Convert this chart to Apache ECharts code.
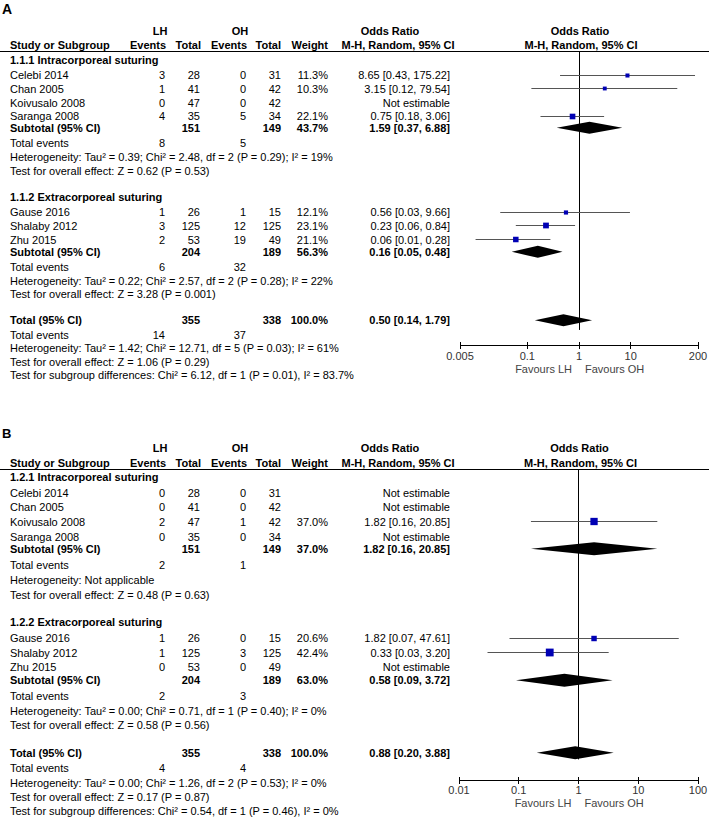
<!DOCTYPE html>
<html><head><meta charset="utf-8">
<script src="https://cdn.jsdelivr.net/npm/echarts@6/dist/echarts.min.js"></script>
<style>html,body{margin:0;padding:0;background:#fff}#c{width:709px;height:819px}</style>
</head><body><div id="c"></div>
<script>
// ---------------- data ----------------
const studies = ['Celebi 2014','Chan 2005','Koivusalo 2008','Saranga 2008','Gause 2016','Shalaby 2012','Zhu 2015'];
const studyGroup = [0,0,0,0,1,1,1];
const lhTotal = [28,41,47,35,26,125,53];
const ohTotal = [31,42,42,34,15,125,49];
const subLhTotal = [151,204];
const subOhTotal = [149,189];
const totalLh = 355;
const totalOh = 338;

// Panel A
const lhEventsA = [3,1,0,4,1,3,2];
const ohEventsA = [0,0,0,5,1,12,19];
const weightA = [11.3,10.3,null,22.1,12.1,23.1,21.1];
const orA = [8.65,3.15,null,0.75,0.56,0.23,0.06];
const ciLowA = [0.43,0.12,null,0.18,0.03,0.06,0.01];
const ciHighA = [175.22,79.54,null,3.06,9.66,0.84,0.28];
const subgroupsA = ['1.1.1 Intracorporeal suturing','1.1.2 Extracorporeal suturing'];
const subWeightA = [43.7,56.3];
const subOrA = [1.59,0.16];
const subLowA = [0.37,0.05];
const subHighA = [6.88,0.48];
const subLhEventsA = [8,6];
const subOhEventsA = [5,32];
const subHetA = ['Heterogeneity: Tau\u00b2 = 0.39; Chi\u00b2 = 2.48, df = 2 (P = 0.29); I\u00b2 = 19%',
                 'Heterogeneity: Tau\u00b2 = 0.22; Chi\u00b2 = 2.57, df = 2 (P = 0.28); I\u00b2 = 22%'];
const subTestA = ['Test for overall effect: Z = 0.62 (P = 0.53)','Test for overall effect: Z = 3.28 (P = 0.001)'];
const totalOrA = [0.50,0.14,1.79];
const totalEventsA = [14,37];
const totalHetA = 'Heterogeneity: Tau\u00b2 = 1.42; Chi\u00b2 = 12.71, df = 5 (P = 0.03); I\u00b2 = 61%';
const totalTestA = 'Test for overall effect: Z = 1.06 (P = 0.29)';
const subgroupDiffA = 'Test for subgroup differences: Chi\u00b2 = 6.12, df = 1 (P = 0.01), I\u00b2 = 83.7%';
const ticksA = [0.005,0.1,1,10,200];

// Panel B
const lhEventsB = [0,0,2,0,1,1,0];
const ohEventsB = [0,0,1,0,0,3,0];
const weightB = [null,null,37.0,null,20.6,42.4,null];
const orB = [null,null,1.82,null,1.82,0.33,null];
const ciLowB = [null,null,0.16,null,0.07,0.03,null];
const ciHighB = [null,null,20.85,null,47.61,3.20,null];
const subgroupsB = ['1.2.1 Intracorporeal suturing','1.2.2 Extracorporeal suturing'];
const subWeightB = [37.0,63.0];
const subOrB = [1.82,0.58];
const subLowB = [0.16,0.09];
const subHighB = [20.85,3.72];
const subLhEventsB = [2,2];
const subOhEventsB = [1,3];
const subHetB = ['Heterogeneity: Not applicable',
                 'Heterogeneity: Tau\u00b2 = 0.00; Chi\u00b2 = 0.71, df = 1 (P = 0.40); I\u00b2 = 0%'];
const subTestB = ['Test for overall effect: Z = 0.48 (P = 0.63)','Test for overall effect: Z = 0.58 (P = 0.56)'];
const totalOrB = [0.88,0.20,3.88];
const totalEventsB = [4,4];
const totalHetB = 'Heterogeneity: Tau\u00b2 = 0.00; Chi\u00b2 = 1.26, df = 2 (P = 0.53); I\u00b2 = 0%';
const totalTestB = 'Test for overall effect: Z = 0.17 (P = 0.87)';
const subgroupDiffB = 'Test for subgroup differences: Chi\u00b2 = 0.54, df = 1 (P = 0.46), I\u00b2 = 0%';
const ticksB = [0.01,0.1,1,10,100];

// ---------------- layout ----------------
const FF = "'Liberation Sans', Arial, Helvetica, sans-serif";
const ROW = {heading:[0,10], study:[1.1,2.1,3.1,4.1,11.1,12.1,13.1], sub:[4.95,14], events:[6.05,15.1],
  het:[7.1,16.1], test:[8.1,17.1], total:19, totEvents:20.05, totHet:21.05, totTest:22.05, subDiff:23};
const COL = {study:10, lhEv:165, lhTot:200, ohEv:246, ohTot:281, weight:328, orText:450};
const layouts = [
  {left:460, width:238, top:51, height:331, yMin:-0.66, yMax:23.5, axisRow:20.85, lineEnd:19.7, letterY:9, head:[-2.1,-1.1], half:6, letterSize:14},
  {left:459, width:239, top:469, height:349.2, yMin:-0.55, yMax:23.5, axisRow:20.9, lineEnd:19.45, letterY:433, head:[-2.0,-0.97], half:6.5, letterSize:13}
];
const panels = [
  {letter:'A', lhEv:lhEventsA, ohEv:ohEventsA, w:weightA, or:orA, lo:ciLowA, hi:ciHighA, groups:subgroupsA,
   subW:subWeightA, subOr:subOrA, subLo:subLowA, subHi:subHighA, subLhEv:subLhEventsA, subOhEv:subOhEventsA,
   subHet:subHetA, subTest:subTestA, totOr:totalOrA, totEv:totalEventsA, totHet:totalHetA, totTest:totalTestA,
   subDiff:subgroupDiffA, ticks:ticksA},
  {letter:'B', lhEv:lhEventsB, ohEv:ohEventsB, w:weightB, or:orB, lo:ciLowB, hi:ciHighB, groups:subgroupsB,
   subW:subWeightB, subOr:subOrB, subLo:subLowB, subHi:subHighB, subLhEv:subLhEventsB, subOhEv:subOhEventsB,
   subHet:subHetB, subTest:subTestB, totOr:totalOrB, totEv:totalEventsB, totHet:totalHetB, totTest:totalTestB,
   subDiff:subgroupDiffB, ticks:ticksB}
];

const L10 = Math.log10;
const f2 = v => v.toFixed(2);
const orStr = (o,l,h) => f2(o) + ' [' + f2(l) + ', ' + f2(h) + ']';
const crisp = v => Math.round(v - 0.5) + 0.5;

const chart = echarts.init(document.getElementById('c'), null, {renderer:'svg'});

const grids = [], xAxes = [], yAxes = [], series = [];
panels.forEach((p, i) => {
  const lay = layouts[i];
  grids.push({left:lay.left, top:lay.top, width:lay.width, height:lay.height, containLabel:false});
  const tv = p.ticks.map(L10);
  xAxes.push({type:'value', gridIndex:i, min:tv[0], max:tv[tv.length-1], show:false, splitLine:{show:false}});
  yAxes.push({type:'value', gridIndex:i, inverse:true, min:lay.yMin, max:lay.yMax, show:false, splitLine:{show:false}});

  const studyData = [];
  studies.forEach((s, k) => {
    if (p.or[k] != null) studyData.push([L10(p.or[k]), L10(p.lo[k]), L10(p.hi[k]), ROW.study[k], p.w[k]]);
  });
  const diamondData = [
    [L10(p.subOr[0]), L10(p.subLo[0]), L10(p.subHi[0]), ROW.sub[0]],
    [L10(p.subOr[1]), L10(p.subLo[1]), L10(p.subHi[1]), ROW.sub[1]],
    [L10(p.totOr[0]), L10(p.totOr[1]), L10(p.totOr[2]), ROW.total]
  ];
  // line of no effect (OR = 1)
  series.push({type:'custom', xAxisIndex:i, yAxisIndex:i, data:[[0, lay.yMin, lay.lineEnd]], silent:true, z:1,
    encode:{x:0, y:[1,2]},
    renderItem:(params, api) => {
      const a = api.coord([api.value(0), api.value(1)]), b = api.coord([api.value(0), api.value(2)]);
      const x = crisp(a[0]);
      return {type:'line', shape:{x1:x, y1:a[1], x2:x, y2:b[1]}, style:{stroke:'#000', lineWidth:1}};
    }});
  // x axis line
  series.push({type:'custom', xAxisIndex:i, yAxisIndex:i, data:[[tv[0], tv[tv.length-1], lay.axisRow]], silent:true, z:2,
    encode:{x:[0,1], y:2},
    renderItem:(params, api) => {
      const a = api.coord([api.value(0), api.value(2)]), b = api.coord([api.value(1), api.value(2)]);
      const y = crisp(a[1]);
      return {type:'line', shape:{x1:a[0], y1:y, x2:b[0], y2:y}, style:{stroke:'#000', lineWidth:1}};
    }});
  // tick marks crossing the axis line, with their labels
  series.push({type:'custom', xAxisIndex:i, yAxisIndex:i, data:p.ticks.map(t => [L10(t), lay.axisRow, t]), silent:true, z:2,
    encode:{x:0, y:1},
    renderItem:(params, api) => {
      const c = api.coord([api.value(0), api.value(1)]);
      const x = crisp(c[0]), y = crisp(c[1]);
      return {type:'group', children:[
        {type:'line', shape:{x1:x, y1:y-3.5, x2:x, y2:y+3.5}, style:{stroke:'#000', lineWidth:1}},
        {type:'text', x:c[0], y:c[1]+10, style:{text:String(api.value(2)), font:'11px ' + FF, fill:'#333',
          align:'center', verticalAlign:'middle'}}
      ]};
    }});
  series.push({type:'custom', xAxisIndex:i, yAxisIndex:i, data:studyData, silent:true, z:3,
    encode:{x:[0,1,2], y:3},
    renderItem:(params, api) => {
      const r = api.value(3);
      const a = api.coord([api.value(1), r]), b = api.coord([api.value(2), r]), c = api.coord([api.value(0), r]);
      const s = 1.2 * Math.sqrt(api.value(4));
      const y = crisp(a[1]);
      return {type:'group', children:[
        {type:'line', shape:{x1:a[0], y1:y, x2:b[0], y2:y}, style:{stroke:'#555', lineWidth:1}},
        {type:'rect', shape:{x:c[0]-s/2, y:y-s/2, width:s, height:s}, style:{fill:'#0000b4'}}
      ]};
    }});
  series.push({type:'custom', xAxisIndex:i, yAxisIndex:i, data:diamondData, silent:true, z:3,
    encode:{x:[0,1,2], y:3},
    renderItem:(params, api) => {
      const r = api.value(3);
      const a = api.coord([api.value(1), r]), b = api.coord([api.value(2), r]), c = api.coord([api.value(0), r]);
      const h = lay.half;
      return {type:'polygon', shape:{points:[[a[0],a[1]],[c[0],c[1]-h],[b[0],b[1]],[c[0],c[1]+h]]}, style:{fill:'#000'}};
    }});
});

chart.setOption({animation:false, backgroundColor:'#fff', grid:grids, xAxis:xAxes, yAxis:yAxes, series:series});

// ---------------- table text ----------------
const graphics = [];
function txt(t, x, y, opt) {
  opt = opt || {};
  const font = (opt.bold ? 'bold ' : '') + (opt.size || 11) + 'px ' + FF;
  graphics.push({type:'text', x:x, y:y, silent:true, z:10,
    style:{text:String(t), font:font, fill:opt.color || '#000',
      align:opt.align || 'left', textAlign:opt.align || 'left', verticalAlign:'middle', textVerticalAlign:'middle'}});
}
panels.forEach((p, i) => {
  const lay = layouts[i];
  const Y = r => chart.convertToPixel({gridIndex:i}, [0, r])[1];
  const X1 = chart.convertToPixel({gridIndex:i}, [0, 0])[0];
  txt(p.letter, 2, lay.letterY, {bold:true, size:lay.letterSize});
  const h1 = Y(lay.head[0]), h2 = Y(lay.head[1]);
  txt('LH', 160, h1, {bold:true, align:'center'});
  txt('OH', 240, h1, {bold:true, align:'center'});
  txt('Odds Ratio', 390, h1, {bold:true, align:'center'});
  txt('Odds Ratio', X1 + 1, h1, {bold:true, align:'center'});
  txt('Study or Subgroup', COL.study, h2, {bold:true});
  txt('Events', COL.lhEv + 1, h2, {bold:true, align:'right'});
  txt('Total', COL.lhTot + 1, h2, {bold:true, align:'right'});
  txt('Events', COL.ohEv + 1, h2, {bold:true, align:'right'});
  txt('Total', COL.ohTot, h2, {bold:true, align:'right'});
  txt('Weight', COL.weight, h2, {bold:true, align:'right'});
  txt('M-H, Random, 95% CI', 398, h2, {bold:true, align:'center'});
  txt('M-H, Random, 95% CI', X1 + 2, h2, {bold:true, align:'center'});
  const yl = crisp(Y(lay.yMin));
  graphics.push({type:'line', silent:true, z:9, shape:{x1:0, y1:yl, x2:709, y2:yl}, style:{stroke:'#000', lineWidth:1}});

  for (let g = 0; g < 2; g++) {
    txt(p.groups[g], COL.study, Y(ROW.heading[g]), {bold:true});
    studies.forEach((s, k) => {
      if (studyGroup[k] !== g) return;
      const y = Y(ROW.study[k]);
      txt(s, COL.study, y);
      txt(p.lhEv[k], COL.lhEv, y, {align:'right'});
      txt(lhTotal[k], COL.lhTot, y, {align:'right'});
      txt(p.ohEv[k], COL.ohEv, y, {align:'right'});
      txt(ohTotal[k], COL.ohTot, y, {align:'right'});
      if (p.w[k] != null) txt(p.w[k].toFixed(1) + '%', COL.weight, y, {align:'right'});
      txt(p.or[k] != null ? orStr(p.or[k], p.lo[k], p.hi[k]) : 'Not estimable', COL.orText, y, {align:'right'});
    });
    const ys = Y(ROW.sub[g]);
    txt('Subtotal (95% CI)', COL.study, ys, {bold:true});
    txt(subLhTotal[g], COL.lhTot, ys, {bold:true, align:'right'});
    txt(subOhTotal[g], COL.ohTot, ys, {bold:true, align:'right'});
    txt(p.subW[g].toFixed(1) + '%', COL.weight, ys, {bold:true, align:'right'});
    txt(orStr(p.subOr[g], p.subLo[g], p.subHi[g]), COL.orText, ys, {bold:true, align:'right'});
    const ye = Y(ROW.events[g]);
    txt('Total events', COL.study, ye);
    txt(p.subLhEv[g], COL.lhEv, ye, {align:'right'});
    txt(p.subOhEv[g], COL.ohEv, ye, {align:'right'});
    txt(p.subHet[g], COL.study, Y(ROW.het[g]));
    txt(p.subTest[g], COL.study, Y(ROW.test[g]));
  }
  const yt = Y(ROW.total);
  txt('Total (95% CI)', COL.study, yt, {bold:true});
  txt(totalLh, COL.lhTot, yt, {bold:true, align:'right'});
  txt(totalOh, COL.ohTot, yt, {bold:true, align:'right'});
  txt('100.0%', COL.weight, yt, {bold:true, align:'right'});
  txt(orStr(p.totOr[0], p.totOr[1], p.totOr[2]), COL.orText, yt, {bold:true, align:'right'});
  const yte = Y(ROW.totEvents);
  txt('Total events', COL.study, yte);
  txt(p.totEv[0], COL.lhEv, yte, {align:'right'});
  txt(p.totEv[1], COL.ohEv, yte, {align:'right'});
  txt(p.totHet, COL.study, Y(ROW.totHet));
  txt(p.totTest, COL.study, Y(ROW.totTest));
  txt(p.subDiff, COL.study, Y(ROW.subDiff));
  const ya = Y(lay.axisRow) + 23;
  txt('Favours LH', X1 - 7, ya, {align:'right', color:'#444'});
  txt('Favours OH', X1 + 6, ya, {align:'left', color:'#444'});
});
chart.setOption({graphic:{elements:graphics}});
</script>
</body></html>
